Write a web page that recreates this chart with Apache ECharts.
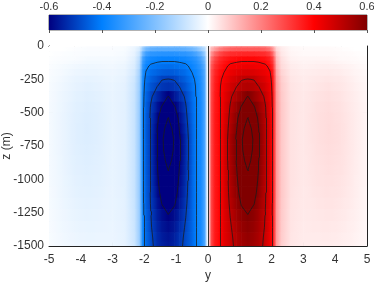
<!DOCTYPE html>
<html><head><meta charset="utf-8">
<script src="https://cdn.jsdelivr.net/npm/echarts@6/dist/echarts.min.js"></script>
<style>html,body{margin:0;padding:0;background:#fff}#c{width:374px;height:284px}</style>
</head><body><div id="c"></div>
<script>
// ---- data ----
// y positions (y >= 0); the y < 0 half is the same field with opposite sign
const yPos = [0, 0.05, 0.1, 0.2, 0.35, 0.5, 0.7, 0.9, 1.05, 1.25, 1.45, 1.6, 1.8, 1.95, 2.05, 2.15, 2.3, 2.6, 3.0, 3.4, 3.8, 4.2, 4.6, 5.0];
// depths z (m)
const zPos = [0, -25, -60, -100, -125, -150, -200, -250, -300, -380, -460, -540, -620, -700, -780, -860, -930, -1010, -1100, -1180, -1270, -1360, -1440, -1500];
// field values, one row per depth, one value per yPos
const fieldRows = [
  [0, 0.025, 0.06, 0.09, 0.12, 0.15, 0.17, 0.18, 0.18, 0.18, 0.18, 0.18, 0.17, 0.14, 0.1, 0.04, 0.025, 0.01, 0.005, 0.005, 0.005, 0, 0, 0],
  [0, 0.045, 0.11, 0.15, 0.2, 0.23, 0.25, 0.26, 0.26, 0.26, 0.26, 0.26, 0.25, 0.22, 0.16, 0.065, 0.033, 0.012, 0.008, 0.008, 0.008, 0.005, 0, 0],
  [0, 0.07, 0.16, 0.23, 0.28, 0.31, 0.33, 0.335, 0.34, 0.34, 0.34, 0.335, 0.33, 0.3, 0.23, 0.09, 0.04, 0.015, 0.01, 0.01, 0.01, 0.008, 0.005, 0],
  [0, 0.09, 0.21, 0.28, 0.33, 0.355, 0.375, 0.385, 0.39, 0.39, 0.39, 0.385, 0.375, 0.35, 0.29, 0.11, 0.05, 0.02, 0.015, 0.015, 0.015, 0.01, 0.008, 0.003],
  [0, 0.1, 0.23, 0.3, 0.345, 0.37, 0.395, 0.402, 0.405, 0.405, 0.405, 0.402, 0.392, 0.365, 0.31, 0.12, 0.055, 0.025, 0.018, 0.02, 0.02, 0.015, 0.01, 0.005],
  [0, 0.11, 0.25, 0.32, 0.36, 0.385, 0.41, 0.42, 0.425, 0.43, 0.425, 0.42, 0.41, 0.385, 0.33, 0.13, 0.06, 0.03, 0.022, 0.025, 0.027, 0.022, 0.015, 0.007],
  [0, 0.115, 0.265, 0.335, 0.375, 0.4, 0.43, 0.445, 0.455, 0.46, 0.455, 0.445, 0.43, 0.405, 0.35, 0.145, 0.07, 0.035, 0.027, 0.03, 0.033, 0.028, 0.018, 0.009],
  [0, 0.118, 0.272, 0.345, 0.385, 0.415, 0.45, 0.475, 0.497, 0.502, 0.498, 0.475, 0.45, 0.42, 0.365, 0.155, 0.08, 0.04, 0.03, 0.036, 0.04, 0.034, 0.022, 0.011],
  [0, 0.12, 0.276, 0.35, 0.39, 0.425, 0.468, 0.498, 0.515, 0.525, 0.515, 0.498, 0.468, 0.43, 0.372, 0.16, 0.085, 0.043, 0.033, 0.04, 0.045, 0.038, 0.025, 0.012],
  [0, 0.12, 0.278, 0.355, 0.39, 0.435, 0.49, 0.535, 0.565, 0.603, 0.565, 0.535, 0.49, 0.44, 0.378, 0.165, 0.088, 0.045, 0.035, 0.044, 0.05, 0.042, 0.028, 0.014],
  [0, 0.12, 0.28, 0.358, 0.39, 0.44, 0.505, 0.565, 0.605, 0.655, 0.605, 0.565, 0.505, 0.448, 0.38, 0.168, 0.09, 0.046, 0.036, 0.047, 0.053, 0.045, 0.03, 0.015],
  [0, 0.12, 0.28, 0.36, 0.39, 0.445, 0.515, 0.585, 0.64, 0.702, 0.64, 0.585, 0.51, 0.452, 0.382, 0.17, 0.09, 0.046, 0.036, 0.048, 0.055, 0.047, 0.031, 0.015],
  [0, 0.12, 0.28, 0.36, 0.39, 0.45, 0.525, 0.598, 0.67, 0.74, 0.67, 0.597, 0.512, 0.455, 0.383, 0.17, 0.09, 0.046, 0.036, 0.048, 0.056, 0.048, 0.031, 0.015],
  [0, 0.12, 0.28, 0.36, 0.39, 0.452, 0.535, 0.61, 0.69, 0.76, 0.685, 0.605, 0.512, 0.455, 0.383, 0.17, 0.09, 0.046, 0.036, 0.048, 0.055, 0.048, 0.031, 0.015],
  [0, 0.12, 0.28, 0.36, 0.39, 0.452, 0.535, 0.61, 0.685, 0.755, 0.68, 0.605, 0.512, 0.455, 0.383, 0.17, 0.09, 0.046, 0.036, 0.047, 0.054, 0.047, 0.031, 0.015],
  [0, 0.12, 0.28, 0.36, 0.39, 0.452, 0.532, 0.605, 0.67, 0.73, 0.665, 0.598, 0.512, 0.455, 0.383, 0.17, 0.09, 0.046, 0.036, 0.046, 0.052, 0.046, 0.03, 0.015],
  [0, 0.12, 0.28, 0.36, 0.39, 0.45, 0.53, 0.598, 0.655, 0.702, 0.65, 0.595, 0.51, 0.455, 0.383, 0.17, 0.09, 0.046, 0.036, 0.045, 0.05, 0.045, 0.03, 0.015],
  [0, 0.12, 0.28, 0.36, 0.39, 0.448, 0.525, 0.59, 0.64, 0.675, 0.635, 0.588, 0.508, 0.453, 0.382, 0.17, 0.09, 0.046, 0.036, 0.044, 0.048, 0.043, 0.029, 0.015],
  [0, 0.12, 0.28, 0.36, 0.39, 0.447, 0.52, 0.58, 0.625, 0.65, 0.62, 0.578, 0.506, 0.452, 0.381, 0.17, 0.09, 0.045, 0.035, 0.042, 0.046, 0.041, 0.028, 0.014],
  [0, 0.12, 0.28, 0.36, 0.39, 0.446, 0.512, 0.568, 0.605, 0.625, 0.602, 0.565, 0.504, 0.45, 0.38, 0.168, 0.088, 0.044, 0.034, 0.04, 0.043, 0.038, 0.027, 0.014],
  [0, 0.12, 0.28, 0.36, 0.39, 0.445, 0.502, 0.55, 0.58, 0.598, 0.578, 0.55, 0.498, 0.445, 0.38, 0.166, 0.086, 0.043, 0.033, 0.037, 0.04, 0.035, 0.025, 0.013],
  [0, 0.12, 0.28, 0.36, 0.39, 0.443, 0.492, 0.535, 0.565, 0.583, 0.565, 0.54, 0.494, 0.44, 0.38, 0.165, 0.085, 0.042, 0.032, 0.035, 0.036, 0.032, 0.023, 0.012],
  [0, 0.12, 0.28, 0.36, 0.39, 0.442, 0.485, 0.523, 0.552, 0.57, 0.555, 0.533, 0.485, 0.435, 0.38, 0.163, 0.083, 0.041, 0.031, 0.032, 0.033, 0.029, 0.021, 0.011],
  [0, 0.12, 0.28, 0.36, 0.39, 0.44, 0.48, 0.52, 0.548, 0.565, 0.55, 0.53, 0.48, 0.43, 0.38, 0.16, 0.08, 0.04, 0.03, 0.03, 0.03, 0.027, 0.02, 0.01]
];
const contourLevels = [0.4, 0.5, 0.6, 0.7];
const colorStops = ['#000080', '#0080ff', '#80c0ff', '#ffffff', '#ff8080', '#ff0000', '#800000'];
const cMin = -0.6, cMax = 0.6;
const yRange = [-5, 5], zRange = [-1500, 0];

// ---- build full grid (mirror, opposite sign for y < 0) ----
const Y = [], idx = [];
for (let i = yPos.length - 1; i >= 1; i--) { Y.push(-yPos[i]); idx.push([i, -1]); }
for (let i = 0; i < yPos.length; i++) { Y.push(yPos[i]); idx.push([i, 1]); }
const V = fieldRows.map(r => idx.map(([i, s]) => s * r[i]));

function cmap(v) {
  const t = Math.max(0, Math.min(1, (v - cMin) / (cMax - cMin)));
  return echarts.color.lerp(t, colorStops);
}
const zB = zPos.map((v, k) => [k === 0 ? v : (zPos[k - 1] + v) / 2, k === zPos.length - 1 ? v : (v + zPos[k + 1]) / 2]);
// one item per pair of neighbouring grid nodes in a row: [y0, y1, zTop, zBottom, v0, v1]
const cells = [];
for (let j = 0; j < zPos.length; j++) for (let i = 0; i < Y.length - 1; i++) {
  cells.push([Y[i], Y[i + 1], zB[j][0], zB[j][1], V[j][i], V[j][i + 1]]);
}

function contourSegments(X, Zs, F, L) {
  const segs = [];
  for (let j = 0; j < Zs.length - 1; j++) for (let i = 0; i < X.length - 1; i++) {
    const pts = [[X[i], Zs[j]], [X[i + 1], Zs[j]], [X[i + 1], Zs[j + 1]], [X[i], Zs[j + 1]]];
    const vs = [F[j][i], F[j][i + 1], F[j + 1][i + 1], F[j + 1][i]];
    const ab = vs.map(v => v >= L);
    const cr = [];
    for (let e = 0; e < 4; e++) {
      const a = e, b = (e + 1) % 4;
      if (ab[a] !== ab[b]) {
        const t = (L - vs[a]) / (vs[b] - vs[a]);
        cr[e] = [pts[a][0] + t * (pts[b][0] - pts[a][0]), pts[a][1] + t * (pts[b][1] - pts[a][1])];
      }
    }
    const es = [0, 1, 2, 3].filter(e => cr[e]);
    if (es.length === 2) segs.push([cr[es[0]], cr[es[1]]]);
    else if (es.length === 4) {
      const c = (vs[0] + vs[1] + vs[2] + vs[3]) / 4 >= L;
      for (let k = 0; k < 4; k++) if (ab[k] !== c) segs.push([cr[(k + 3) % 4], cr[k]]);
    }
  }
  return segs;
}
let segs = [];
contourLevels.forEach(L => { segs = segs.concat(contourSegments(Y, zPos, V, L), contourSegments(Y, zPos, V, -L)); });

const font = 'Liberation Sans, Arial, sans-serif';
const txt = '#333';
const chart = echarts.init(document.getElementById('c'), null, { renderer: 'canvas' });
chart.setOption({
  animation: false,
  grid: [
    { left: 49, right: 7, top: 46, bottom: 38, outerBoundsMode: 'none', containLabel: false },
    { left: 49, right: 7, top: 15, height: 15, show: true, borderColor: '#666', borderWidth: 1, outerBoundsMode: 'none', containLabel: false }
  ],
  xAxis: [
    { gridIndex: 0, type: 'value', min: yRange[0], max: yRange[1], interval: 1, position: 'bottom',
      name: 'y', nameLocation: 'middle', nameGap: 24, nameMoveOverlap: false, nameTextStyle: { color: txt, fontSize: 12, fontFamily: font },
      axisLine: { onZero: false, lineStyle: { color: '#222' } }, axisTick: { inside: true, length: 4, lineStyle: { color: '#222' } },
      axisLabel: { color: txt, fontSize: 12, fontFamily: font, margin: 8 }, splitLine: { show: false } },
    { gridIndex: 1, type: 'value', min: cMin, max: cMax, interval: 0.2, position: 'top',
      axisLine: { show: false }, axisTick: { inside: true, length: 3, lineStyle: { color: '#555' } },
      axisLabel: { color: txt, fontSize: 11, fontFamily: font, margin: 3 }, splitLine: { show: false } },
    { gridIndex: 0, type: 'value', min: yRange[0], max: yRange[1], interval: 1, position: 'top',
      axisLine: { onZero: false, lineStyle: { color: '#222' } }, axisTick: { inside: true, length: 4, lineStyle: { color: '#222' } },
      axisLabel: { show: false }, splitLine: { show: false } }
  ],
  yAxis: [
    { gridIndex: 0, type: 'value', min: zRange[0], max: zRange[1], interval: 250, position: 'left',
      name: 'z (m)', nameLocation: 'middle', nameGap: 36, nameRotate: 90, nameMoveOverlap: false, nameTextStyle: { color: txt, fontSize: 12, fontFamily: font },
      axisLine: { onZero: false, lineStyle: { color: '#222' } }, axisTick: { inside: true, length: 4, lineStyle: { color: '#222' } },
      axisLabel: { color: txt, fontSize: 12, fontFamily: font, margin: 5, formatter: v => String(v) }, splitLine: { show: false } },
    { gridIndex: 1, type: 'value', min: 0, max: 1, show: false },
    { gridIndex: 0, type: 'value', min: zRange[0], max: zRange[1], interval: 250, position: 'right',
      axisLine: { onZero: false, lineStyle: { color: '#222' } }, axisTick: { inside: true, length: 4, lineStyle: { color: '#222' } },
      axisLabel: { show: false }, splitLine: { show: false } }
  ],
  series: [
    { type: 'custom', xAxisIndex: 0, yAxisIndex: 0, data: cells, clip: true, silent: true,
      encode: { x: [0, 1], y: [2, 3] },
      renderItem: (params, api) => {
        const y0 = api.value(0), y1 = api.value(1), v0 = api.value(4), v1 = api.value(5);
        const p0 = api.coord([y0, api.value(2)]);
        const p1 = api.coord([y1, api.value(3)]);
        const stops = [];
        for (let k = 0; k <= 4; k++) stops.push({ offset: k / 4, color: cmap(v0 + (v1 - v0) * k / 4) });
        const fill = new echarts.graphic.LinearGradient(0, 0, 1, 0, stops);
        return { type: 'rect', shape: { x: p0[0] - 0.3, y: Math.min(p0[1], p1[1]) - 0.3, width: p1[0] - p0[0] + 0.6, height: Math.abs(p1[1] - p0[1]) + 0.6 },
                 style: { fill: fill } };
      } },
    { type: 'lines', coordinateSystem: 'cartesian2d', xAxisIndex: 0, yAxisIndex: 0, silent: true,
      data: segs.map(s => ({ coords: s })), lineStyle: { color: '#1a1a1a', width: 0.9, opacity: 0.85 } },
    { type: 'lines', coordinateSystem: 'cartesian2d', xAxisIndex: 0, yAxisIndex: 0, silent: true,
      data: [{ coords: [[0, zRange[0]], [0, zRange[1]]] }], lineStyle: { color: '#333', width: 1, opacity: 1 } },
    { type: 'custom', xAxisIndex: 1, yAxisIndex: 1, data: [[cMin, cMax]], silent: true, clip: true,
      renderItem: (params, api) => {
        const p0 = api.coord([api.value(0), 0]);
        const p1 = api.coord([api.value(1), 1]);
        const fill = new echarts.graphic.LinearGradient(0, 0, 1, 0, colorStops.map((c, k) => ({ offset: k / (colorStops.length - 1), color: c })));
        return { type: 'rect', shape: { x: p0[0], y: p1[1], width: p1[0] - p0[0], height: p0[1] - p1[1] }, style: { fill: fill } };
      } }
  ]
});
</script></body></html>
